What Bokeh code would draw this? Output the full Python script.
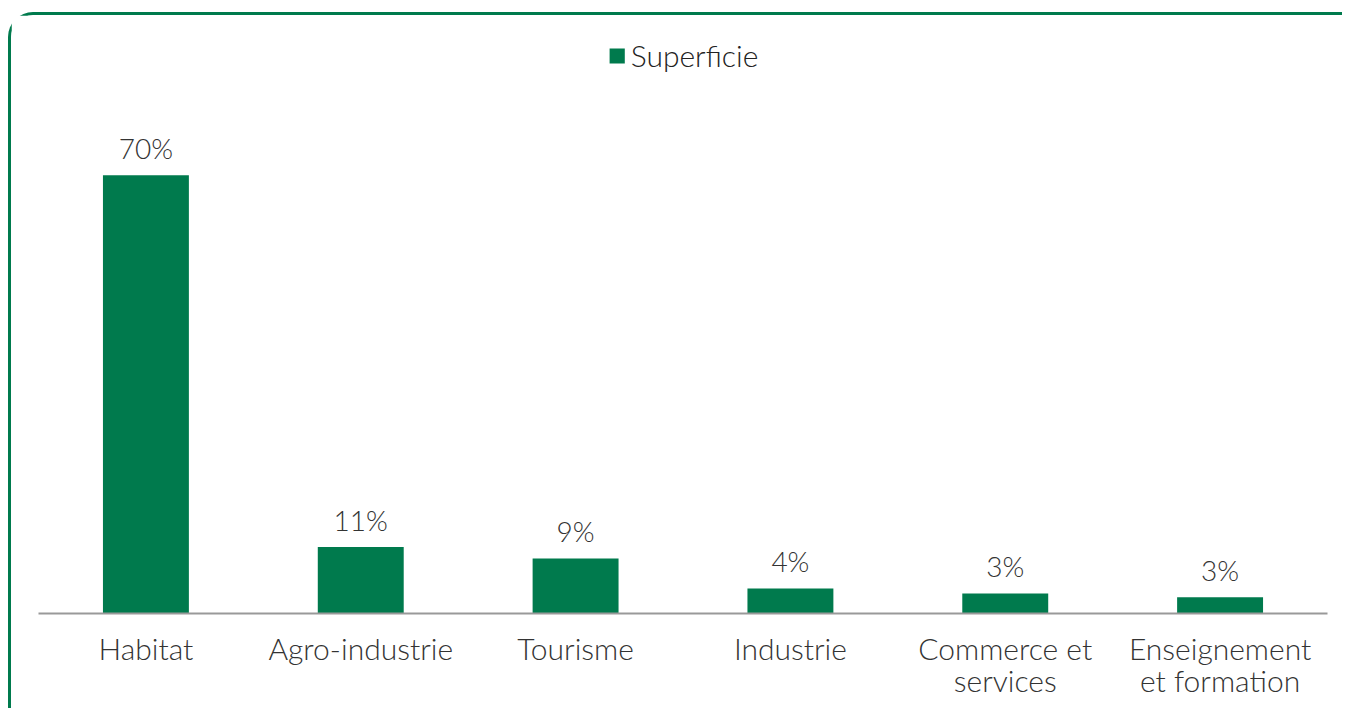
from bokeh.plotting import figure
from bokeh.models import ColumnDataSource, FactorRange, Range1d, Legend, LegendItem
from bokeh.core.properties import value
from bokeh.embed import file_html
from bokeh.resources import INLINE

categories = ["Habitat", "Agro-industrie", "Tourisme", "Industrie",
              "Commerce et\nservices", "Enseignement\net formation"]
superficie = [70.0, 10.6, 8.8, 4.0, 3.2, 2.6]
value_labels = ["70%", "11%", "9%", "4%", "3%", "3%"]
series_name = "Superficie"

GREEN = "#007A4D"
TEXT = "#333333"
FONT = "Lato Light"

src = ColumnDataSource(dict(cat=categories, val=superficie, lab=value_labels))

p = figure(width=1334, height=696, output_backend="svg", toolbar_location=None,
           x_range=FactorRange(*categories, range_padding=0),
           y_range=Range1d(0, 92.3), y_axis_type=None,
           min_border_left=27, min_border_right=18, min_border_top=20, min_border_bottom=98)
p.styles = {"border-top": "3px solid " + GREEN, "border-left": "3px solid " + GREEN,
            "border-top-left-radius": "25px", "margin-top": "12px", "margin-left": "8px"}

bars = p.vbar(x="cat", top="val", width=0.4, source=src, fill_color=GREEN, line_color=None)
p.text(x="cat", y="val", text="lab", source=src, y_offset=-27,
       text_align="center", text_baseline="alphabetic",
       text_font=value(FONT), text_font_size="28px", text_color=TEXT)

p.xgrid.visible = False
p.ygrid.visible = False
p.outline_line_color = None
p.xaxis.axis_line_color = "#999999"
p.xaxis.axis_line_width = 2
p.xaxis.major_tick_line_color = None
p.xaxis.minor_tick_line_color = None
p.xaxis.major_label_text_font = FONT
p.xaxis.major_label_text_font_size = "30px"
p.xaxis.major_label_text_color = TEXT
p.xaxis.major_label_text_line_height = 0.9
p.xaxis.major_label_standoff = 10

legend = Legend(items=[LegendItem(label=series_name, renderers=[bars])],
                location="top_center", orientation="horizontal",
                border_line_color=None, background_fill_alpha=0,
                padding=0, margin=2, glyph_width=19, glyph_height=19,
                label_standoff=5, label_text_font=FONT,
                label_text_font_size="30px", label_text_color="#222222")
p.add_layout(legend, "center")

open("out.html", "w").write(file_html(p, INLINE))
